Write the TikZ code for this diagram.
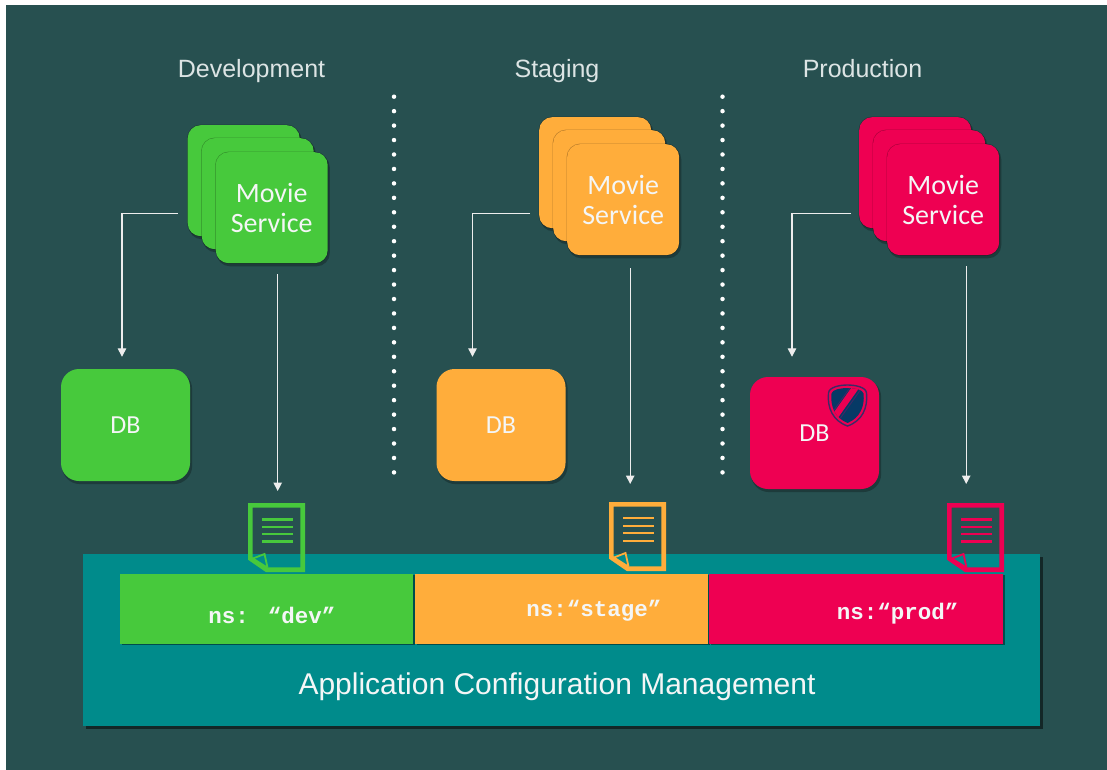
\documentclass[tikz,border=0pt]{standalone}
\usepackage{fontspec}
\setmainfont{Liberation Sans}
\newfontfamily\cardfont{Carlito}
\newfontfamily\nsfont{Liberation Mono}[BoldFont={Liberation Mono Bold}]
\usetikzlibrary{arrows.meta,shadows,calc}
\definecolor{bgdark}{HTML}{275050}
\definecolor{barteal}{HTML}{008B8B}
\definecolor{cgreen}{HTML}{47C93C}
\definecolor{corange}{HTML}{FFAD3B}
\definecolor{cred}{HTML}{EE0052}
\definecolor{shieldblue}{HTML}{063A66}
\definecolor{shieldline}{HTML}{3D2A66}
\definecolor{txt}{HTML}{F4F6F6}
\definecolor{ttl}{HTML}{DCE4E4}
\tikzset{
  softshadow/.style={
    general shadow={shadow xshift=1.5pt,shadow yshift=-2.5pt,shadow scale=1.01,fill=black,opacity=.25},
    preaction={draw=black,draw opacity=.28,line width=1.2pt}},
  card/.style={rounded corners=13pt,minimum width=112pt,minimum height=111pt,inner sep=0pt,fill=#1,softshadow},
  dbbox/.style={rounded corners=18pt,minimum width=129pt,minimum height=112pt,inner sep=0pt,fill=#1,
    general shadow={shadow xshift=1.5pt,shadow yshift=-2.5pt,shadow scale=1.01,fill=black,opacity=.25},
    text=txt,font=\cardfont\fontsize{26}{30}\selectfont},
  cardtext/.style={text=txt,align=center,font=\cardfont\fontsize{28}{30}\selectfont},
  title/.style={text=ttl,anchor=base,font=\fontsize{25}{30}\selectfont},
  strip/.style={minimum height=70pt,inner sep=0pt,fill=#1,
    general shadow={shadow xshift=1.5pt,shadow yshift=-1pt,fill=black,opacity=.45}},
  nstext/.style={text=txt,font=\nsfont\bfseries\fontsize{22.5}{24}\selectfont},
  conn/.style={draw=white!93!black,line width=1.3pt},
  arr/.style={conn,-{Triangle[width=8.5pt,length=8.5pt]}},
  dotsep/.style={draw=white,line width=4.5pt,line cap=round,dash pattern=on 0pt off 14.45pt},
  docbox/.style={minimum width=57pt,minimum height=69pt,inner sep=0pt},
}
\newcommand{\movstack}[5]{% name, colour, left, top, label-free
  \node[card=#2,anchor=north west] (#1back) at (#3,#4) {};
  \node[card=#2,anchor=north west] (#1mid) at ($(#3,#4)+(14,13)$) {};
  \node[card=#2,anchor=north west,cardtext] (#1) at ($(#3,#4)+(28,27)$) {Movie\\Service};
}
\newcommand{\docicon}[6]{% name, colour, left, top, heavy, thin
  \node[docbox,anchor=north west] (#1) at (#3,#4) {};
  \begin{scope}[shift={(#3,#4)},draw=#2]
    \draw[line width=4.6pt,miter limit=10] (2.3,2.3) -- (54.7,2.3) -- (54.7,66.7) -- (18.5,66.7) -- (2.3,55.5) -- cycle;
    \draw[line width=1.8pt,line join=miter] (5,55.5) -- (16.5,51) -- (19.5,64.5);
    \draw[line width=1.5pt] (5,55.5) -- (19.5,64.5);
    \draw[line width=#5] (14,16) -- (45,16);
    \draw[line width=#6] (14,23.5) -- (45,23.5);
    \draw[line width=#6] (14,31) -- (45,31);
    \draw[line width=#5] (14,38.5) -- (45,38.5);
  \end{scope}
}
\begin{document}
\begin{tikzpicture}[x=1pt,y=-1pt]
\useasboundingbox (0,0) rectangle (1107,770);
\fill[bgdark] (6,5) rectangle (1107,770);

% titles
\node[title] (tdev) at (251.5,78) {Development};
\node[title] (tstg) at (557,78) {Staging};
\node[title] (tprd) at (862.5,78) {Production};

% dotted separators
\coordinate (sepAa) at (394,96.7);
\coordinate (sepAb) at (394,473);
\coordinate (sepBa) at (722.5,96.7);
\coordinate (sepBb) at (722.5,473);
\draw[dotsep] (sepAa) -- (sepAb);
\draw[dotsep] (sepBa) -- (sepBb);

% service stacks
\movstack{msg}{cgreen}{187.5}{125}{}
\movstack{mso}{corange}{539}{117}{}
\movstack{msr}{cred}{859}{117}{}

% databases
\node[dbbox=cgreen] (dbg) at (125.5,425) {DB};
\node[dbbox=corange] (dbo) at (501,425) {DB};
\node[dbbox=cred] (dbr) at (814.5,433) {DB};

% shield
\begin{scope}
  \def\shieldpath{(828.5,393) .. controls (829,387) and (840,385) .. (847.5,385) .. controls (855,385) and (866,387) .. (866.5,393) .. controls (868,408) and (862,421) .. (847.5,426) .. controls (833,421) and (827,408) .. (828.5,393) -- cycle}
  \fill[cred] \shieldpath;
  \draw[shieldline,line width=1.4pt] \shieldpath;
  \begin{scope}
    \clip (831.5,393.5) .. controls (832,389.5) and (841,388) .. (847.5,388) .. controls (854,388) and (863,389.5) .. (863.5,393.5) .. controls (865,406) and (860,418) .. (847.5,423) .. controls (835,418) and (830,406) .. (831.5,393.5) -- cycle;
    \fill[shieldblue] (825,383) rectangle (870,428);
    \draw[cred,line width=6.5pt] (831,422) -- (858,384);
    \draw[shieldline,line width=.9pt] (827,420) -- (854,382);
    \draw[shieldline,line width=.9pt] (835.5,425) -- (862.5,387);
  \end{scope}
\end{scope}

% configuration bar
\node[minimum width=957pt,minimum height=172pt,inner sep=0pt,anchor=north west,fill=barteal,
  general shadow={shadow xshift=2.5pt,shadow yshift=-2.5pt,fill=black,opacity=.5}] (bar) at (83,554) {};
\node[text=txt,anchor=base,font=\fontsize{30}{32}\selectfont] (barlabel) at (557,694) {Application Configuration Management};

\node[strip=cgreen,minimum width=293pt,anchor=north west] (stg) at (120,574) {};
\node[strip=corange,minimum width=293pt,anchor=north west] (sto) at (415,574) {};
\node[strip=cred,minimum width=294pt,anchor=north west] (str) at (709,574) {};
\node[nstext] (nsg) at (272,615) {ns:\hspace{1pt} “dev”};
\node[nstext] (nso) at (594,611) {ns:“stage”};
\node[nstext] (nsr) at (897.5,614) {ns:“prod”};

% documents
\docicon{docg}{cgreen}{248}{503}{3pt}{2pt}
\docicon{doco}{corange}{609}{502}{2pt}{2pt}
\docicon{docr}{cred}{947}{503}{3pt}{2pt}

% connectors
\draw[arr] ([xshift=-10pt,yshift=-33pt]msgback.west) -| ([xshift=-3.5pt,yshift=12pt]dbg.north);
\draw[arr] ([xshift=-9pt,yshift=-41pt]msoback.west) -| ([xshift=-28.5pt,yshift=12pt]dbo.north);
\draw[arr] ([xshift=-8pt,yshift=-41pt]msrback.west) -| ([xshift=-22.5pt,yshift=20pt]dbr.north);
\draw[arr] ([xshift=6pt,yshift=-11pt]msg.south) -- ([xshift=1pt,yshift=12pt]docg.north);
\draw[arr] ([xshift=7pt,yshift=-13pt]mso.south) -- ([xshift=-7.5pt,yshift=18pt]doco.north);
\draw[arr] ([xshift=23pt,yshift=-11pt]msr.south) -- ([xshift=-9.5pt,yshift=19pt]docr.north);
\end{tikzpicture}
\end{document}
